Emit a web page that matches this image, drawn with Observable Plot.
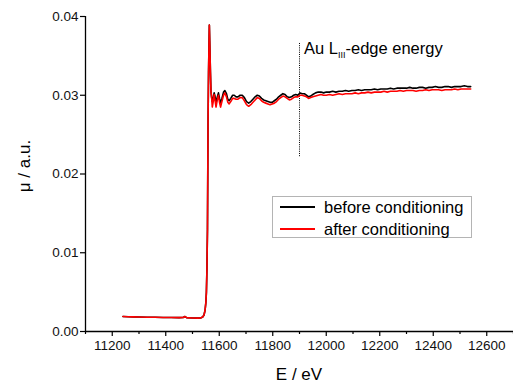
<!DOCTYPE html>
<html><head><meta charset="utf-8">
<script src="https://cdn.jsdelivr.net/npm/d3@7"></script>
<script src="https://cdn.jsdelivr.net/npm/@observablehq/plot@0.6"></script>
<style>
body{margin:0;background:#fff;}
#wrap{position:relative;width:513px;height:384px;font-family:"Liberation Sans",Arial,sans-serif;}
#legend{position:absolute;left:272px;top:196px;width:200px;height:42px;border:1px solid #b4b4b4;background:#fff;box-sizing:border-box;}
.row{position:absolute;left:0;height:20px;width:100%;}
.swatch{position:absolute;left:7px;width:35px;height:0;border-top:2px solid;top:9px;}
.lab{position:absolute;left:51px;top:0;font-size:16.5px;line-height:20px;color:#000;white-space:nowrap;}
</style></head><body><div id="wrap"></div>
<script>
const energy = [11240,11260,11280,11300,11330,11360,11390,11420,11450,11465,11472,11478,11500,11520,11530,11538,11543,11547,11550,11552,11554,11556,11558,11560,11562,11563,11565,11567,11569,11571,
11574,11578,11581,11584,11588,11592,11597,11601,11605,11610,
11616,11621,11627,11632,11637,11643,11650,11656,11663,11670,
11678,11686,11694,11702,11710,11718,11726,11734,11742,11750,
11758,11766,11774,11782,11790,11798,11806,11814,11822,11830,
11838,11846,11854,11862,11870,11878,11886,11894,11902,11910,
11918,11926,11934,11942,11950,11960,11970,11980,11990,12000,
12012,12024,12036,12048,12060,12072,12084,12096,12108,12120,
12132,12144,12156,12168,12180,12192,12204,12216,12228,12240,
12252,12264,12276,12288,12300,12312,12324,12336,12348,12360,
12372,12384,12396,12408,12420,12432,12444,12456,12468,12480,
12492,12504,12516,12528,12540];

const muBefore = [0.00190,0.00188,0.00186,0.00184,0.00181,0.00180,0.00178,0.00177,0.00176,0.00177,0.00190,0.00176,0.00172,0.00170,0.00172,0.00185,0.00210,0.00270,0.00370,0.00500,0.00800,0.01300,0.02600,0.03300,0.03700,0.03890,0.03600,0.03300,0.03050,0.02980,
.0292,.0298,.0303,.0299,.0290,.0297,.0303,.0296,.0290,.0296,
.0304,.0306,.0302,.0295,.0293,.0296,.0300,.0300,.0298,.0298,
.0300,.0300,.0297,.0292,.0290,.0292,.0295,.0298,.0300,.0299,
.0296,.0294,.0293,.0292,.0291,.0291,.0293,.0295,.0298,.0300,
.0302,.0301,.0298,.0297,.0298,.0300,.0301,.0300,.0303,.0302,
.0302,.0300,.0298,.0299,.0301,.0303,.0304,.0304,.0303,.0304,
.0304,.0305,.0304,.0305,.0305,.0306,.0305,.0306,.0306,.0307,
.0306,.0307,.0307,.0307,.0308,.0307,.0308,.0308,.0308,.0309,
.0308,.0309,.0309,.0309,.0309,.0310,.0309,.0309,.0310,.0310,
.0309,.0310,.0310,.0311,.0310,.0310,.0311,.0311,.0310,.0311,
.0311,.0311,.0312,.0311,.0311];

const muAfter = [0.00190,0.00188,0.00186,0.00184,0.00181,0.00180,0.00178,0.00177,0.00176,0.00177,0.00190,0.00176,0.00172,0.00170,0.00172,0.00185,0.00210,0.00270,0.00370,0.00500,0.00800,0.01300,0.02600,0.03300,0.03700,0.03890,0.03600,0.03300,0.03050,0.03000,
.0285,.0293,.0301,.0294,.0285,.0293,.0300,.0291,.0285,.0292,
.0300,.0303,.0298,.0291,.0289,.0292,.0296,.0296,.0295,.0295,
.0297,.0297,.0293,.0288,.0286,.0288,.0291,.0294,.0297,.0296,
.0293,.0291,.0290,.0289,.0288,.0289,.0290,.0292,.0295,.0297,
.0299,.0298,.0296,.0294,.0295,.0297,.0298,.0298,.0300,.0300,
.0299,.0298,.0296,.0297,.0298,.0299,.0300,.0301,.0300,.0300,
.0301,.0300,.0301,.0302,.0301,.0302,.0302,.0302,.0303,.0302,
.0303,.0303,.0304,.0303,.0304,.0304,.0304,.0305,.0304,.0305,
.0305,.0305,.0306,.0305,.0306,.0306,.0306,.0305,.0306,.0306,
.0307,.0306,.0307,.0307,.0307,.0306,.0307,.0307,.0307,.0308,
.0307,.0308,.0308,.0308,.0308];

const seriesNames = ["before conditioning", "after conditioning"];
const seriesColors = ["#000000", "#ff0000"];
const xTicks = [11200,11400,11600,11800,12000,12200,12400,12600];
const xMinorTicks = [11100,11300,11500,11700,11900,12100,12300,12500,12700];
const yTicks = [0.00,0.01,0.02,0.03,0.04];
const xDomain = [11100, 12700];
const yDomain = [0, 0.04];
const edgeEnergy = 11900;
const edgeRule = [0.0222, 0.0367];
const edgeLabelMu = 0.0352;
const xTitle = "E / eV";
const yTitle = "μ / a.u.";

const before = energy.map((e, i) => ({E: e, mu: muBefore[i]}));
const after = energy.map((e, i) => ({E: e, mu: muAfter[i]}));

const plot = Plot.plot({
  width: 513, height: 384,
  marginLeft: 85, marginRight: 0, marginTop: 16, marginBottom: 53,
  style: {fontFamily: "'Liberation Sans', Arial, sans-serif", fontSize: "13.5px", color: "#000", background: "#fff"},
  x: {domain: xDomain},
  y: {domain: yDomain},
  marks: [
    Plot.ruleY([0], {stroke: "#000", strokeWidth: 1.3}),
    Plot.ruleX([xDomain[0]], {stroke: "#000", strokeWidth: 1.3}),
    Plot.axisX(xMinorTicks, {tickSize: 3, tickFormat: () => "", label: null, strokeWidth: 1.2}),
    Plot.axisX(xTicks, {tickSize: 5, tickPadding: 4, tickFormat: d => String(d), label: null, strokeWidth: 1.2, fill: "#111"}),
    Plot.axisY(yTicks, {tickSize: 5, tickPadding: 2, tickFormat: d3.format(".2f"), label: null, strokeWidth: 1.2, fill: "#111"}),
    Plot.ruleX([edgeEnergy], {y1: edgeRule[0], y2: edgeRule[1], stroke: "#000", strokeWidth: 1, strokeDasharray: "1,1.2"}),
    Plot.line(before, {x: "E", y: "mu", stroke: seriesColors[0], strokeWidth: 1.6}),
    Plot.line(after, {x: "E", y: "mu", stroke: seriesColors[1], strokeWidth: 1.6})
  ]
});

const svg = d3.select(plot);
const xs = plot.scale("x"), ys = plot.scale("y");
const t = svg.append("text")
  .attr("x", xs.apply(edgeEnergy) + 5)
  .attr("y", ys.apply(edgeLabelMu))
  .attr("text-anchor", "start")
  .attr("font-size", 16.5).attr("fill", "#000");
t.append("tspan").text("Au L");
t.append("tspan").attr("font-size", 9).attr("dy", 4).text("III");
t.append("tspan").attr("dy", -4).text("-edge energy");

svg.append("text").attr("x", 299).attr("y", 380).attr("text-anchor", "middle")
  .attr("font-size", 17).attr("fill", "#000").text(xTitle);
svg.append("text").attr("transform", "translate(30,166) rotate(-90)").attr("text-anchor", "middle")
  .attr("font-size", 17).attr("fill", "#000").text(yTitle);

const wrap = document.getElementById("wrap");
wrap.appendChild(plot);
const legend = document.createElement("div");
legend.id = "legend";
seriesNames.forEach((name, i) => {
  const row = document.createElement("div");
  row.className = "row";
  row.style.top = (i * 22) + "px";
  const sw = document.createElement("div");
  sw.className = "swatch";
  sw.style.borderColor = seriesColors[i];
  const lab = document.createElement("div");
  lab.className = "lab";
  lab.textContent = name;
  row.appendChild(sw); row.appendChild(lab);
  legend.appendChild(row);
});
wrap.appendChild(legend);
</script></body></html>
